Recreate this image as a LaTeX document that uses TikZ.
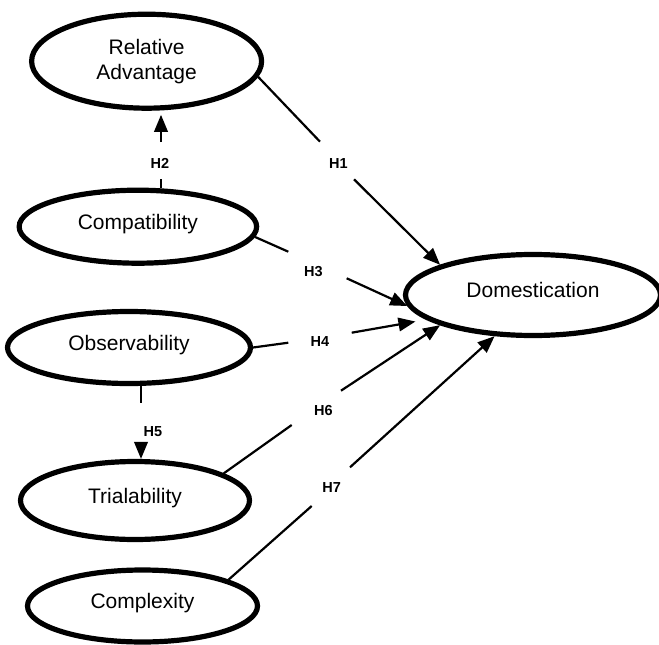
\documentclass[tikz,border=0pt]{standalone}
\usepackage{fontspec}
\setmainfont{Liberation Sans}
\usetikzlibrary{arrows.meta,shapes.geometric}
\begin{document}
\begin{tikzpicture}[x=1pt,y=-1pt,
  ell/.style={ellipse,draw,line width=5.2pt,inner sep=0pt,font=\fontsize{21}{25}\selectfont},
  txt/.style={text height=15pt,text depth=10pt},
  hl/.style={font=\bfseries\fontsize{14.5}{16}\selectfont,inner sep=0pt},
  con/.style={line width=2.2pt},
  arr/.style={con,-{Triangle[length=17pt,width=13.5pt]}}]
\useasboundingbox (0,0) rectangle (659,645);
% constructs
\node[ell,align=center,minimum width=230pt,minimum height=94pt] (ra) at (146.6,61.2) {Relative\\Advantage};
\node[ell,txt,minimum width=237.5pt,minimum height=73pt] (comp) at (137.9,226.7) {Compatibility};
\node[ell,txt,minimum width=243pt,minimum height=72pt] (obs) at (129,347.5) {Observability};
\node[ell,txt,minimum width=229pt,minimum height=78pt] (tri) at (135,500.5) {Trialability};
\node[ell,txt,minimum width=230pt,minimum height=72pt] (cpx) at (142.5,606) {Complexity};
\node[ell,txt,minimum width=255pt,minimum height=81pt] (dom) at (533,295) {Domestication};
% gap coordinates
\coordinate (h1a) at (320,141.7);  \coordinate (h1b) at (354,179.3);
\coordinate (h2a) at (161,179);    \coordinate (h2b) at (161,142);
\coordinate (h3a) at (288.3,251.7);\coordinate (h3b) at (346.7,278.3);
\coordinate (h4a) at (288.3,342.7);\coordinate (h4b) at (351.7,332.7);
\coordinate (h5a) at (141,403);    \coordinate (h5b) at (141,442);
\coordinate (h6a) at (291.7,425);  \coordinate (h6b) at (341,390.7);
\coordinate (h7a) at (311.7,506);  \coordinate (h7b) at (350,467.3);
% labels
\node[hl] (l1) at (338.3,163.3) {H1};
\node[hl] (l2) at (160,163) {H2};
\node[hl] (l3) at (313.3,271.7) {H3};
\node[hl] (l4) at (320,341.7) {H4};
\node[hl] (l5) at (153,432) {H5};
\node[hl] (l6) at (323.3,411) {H6};
\node[hl] (l7) at (331.7,487.3) {H7};
% connectors
\draw[con] (ra.-8.6) -- (h1a);
\draw[arr] (h1b) -- (dom.162.1);
\draw[con] (h2a |- comp.north) -- (h2a);
\draw[arr,shorten >=4pt] (h2b) -- (h2b |- ra.south);
\draw[con] (comp.-5.4) -- (h3a);
\draw[arr] (h3b) -- (dom.185.4);
\draw[con] (obs.east) -- (h4a);
\draw[arr,shorten >=11pt] (h4b) -- (dom.193.4);
\draw[con] (h5a |- obs.south) -- (h5a);
\draw[arr] (h5b) -- (h5b |- tri.north);
\draw[con] (tri.17.8) -- (h6a);
\draw[arr] (h6b) -- (dom.198.1);
\draw[con] (cpx.17.6) -- (h7a);
\draw[arr] (h7b) -- (dom.227.1);
\end{tikzpicture}
\end{document}
